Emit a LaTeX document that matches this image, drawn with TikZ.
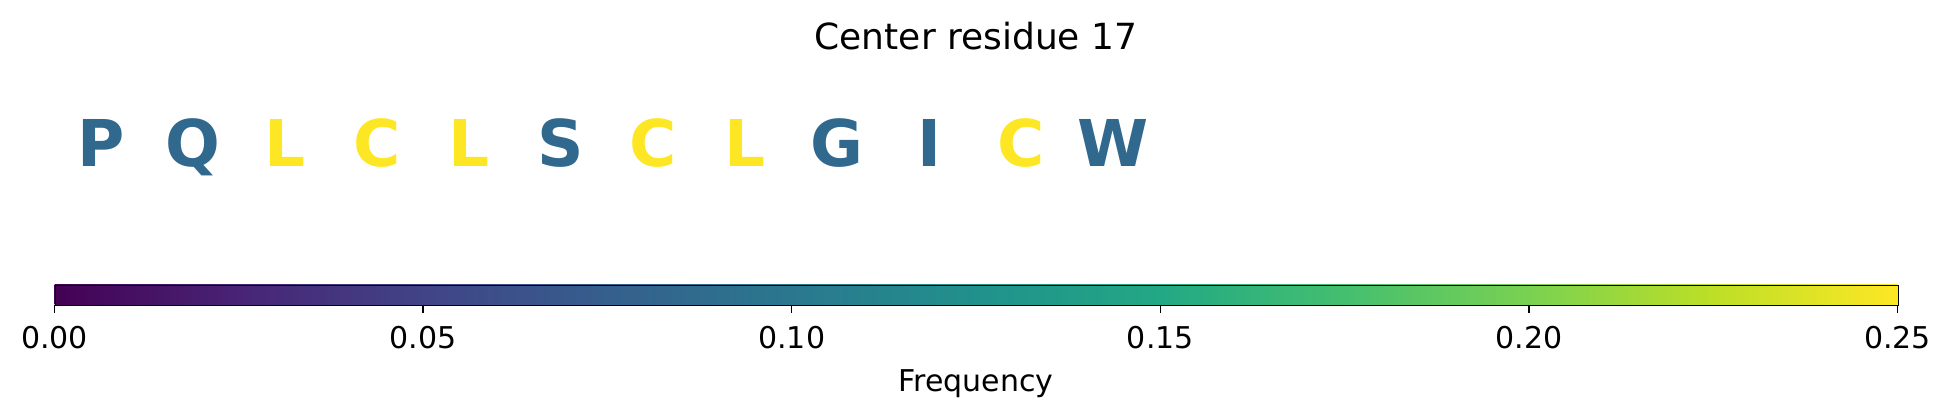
\documentclass[tikz,border=0pt]{standalone}
\usepackage{fontspec}
\setmainfont{DejaVu Sans}
\definecolor{vir0}{HTML}{440154}
\definecolor{vir1}{HTML}{482475}
\definecolor{vir2}{HTML}{414487}
\definecolor{vir3}{HTML}{355F8D}
\definecolor{vir4}{HTML}{2A788E}
\definecolor{vir5}{HTML}{21918C}
\definecolor{vir6}{HTML}{22A884}
\definecolor{vir7}{HTML}{44BF70}
\definecolor{vir8}{HTML}{7AD151}
\definecolor{vir9}{HTML}{BDDF26}
\definecolor{vir10}{HTML}{FDE725}
\definecolor{resblue}{HTML}{31688E}
\definecolor{resyellow}{HTML}{FDE725}
\pgfdeclarehorizontalshading{viridis}{100bp}{color(0bp)=(vir0); color(25bp)=(vir0); color(30bp)=(vir1); color(35bp)=(vir2); color(40bp)=(vir3); color(45bp)=(vir4); color(50bp)=(vir5); color(55bp)=(vir6); color(60bp)=(vir7); color(65bp)=(vir8); color(70bp)=(vir9); color(75bp)=(vir10); color(100bp)=(vir10)}
\begin{document}
\begin{tikzpicture}[x=0.5pt,y=-0.5pt,
  lbl/.style={inner sep=0pt,anchor=base,font=\fontsize{15pt}{18pt}\selectfont},
  ttl/.style={inner sep=0pt,anchor=base,font=\fontsize{18pt}{22pt}\selectfont},
  res/.style={inner sep=0pt,anchor=base,font=\fontsize{32.25pt}{38pt}\selectfont\bfseries},
  tickmark/.style={line width=0.75pt,black}]
\useasboundingbox (0,0) rectangle (1952,416);
\node[ttl] (title) at (976,50) {Center residue 17};
\foreach \l/\c [count=\i from 0] in {P/resblue,Q/resblue,L/resyellow,C/resyellow,L/resyellow,S/resblue,C/resyellow,L/resyellow,G/resblue,I/resblue,C/resyellow,W/resblue}{
  \node[res,text=\c] (r\i) at ({101+92*\i},167) {\l};
}
\shade[shading=viridis] (54.5,284.7) rectangle (1897.5,304.7);
\node[draw=black,line width=0.75pt,inner sep=0pt,minimum width=921.5pt,minimum height=10pt,anchor=north west] (cbar) at (54.5,284.7) {};
\foreach \v [count=\k from 0] in {0.00,0.05,0.10,0.15,0.20,0.25}{
  \coordinate (t\k) at ({54.5+368.6*\k},304.7);
  \draw[tickmark] (t\k) -- ++(0,8.6);
  \node[lbl] (tl\k) at ({54.5+368.6*\k},348.3) {\v};
}
\node[lbl] (freq) at (976,391.7) {Frequency};
\end{tikzpicture}
\end{document}
